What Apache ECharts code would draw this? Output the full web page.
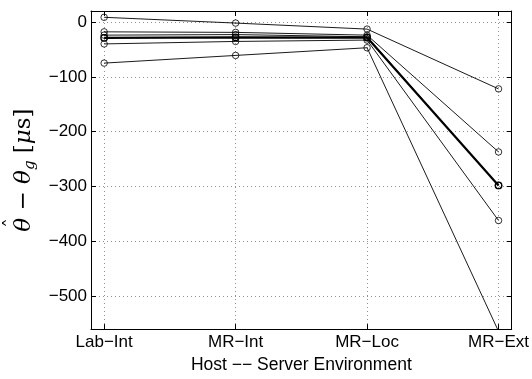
<!DOCTYPE html>
<html><head><meta charset="utf-8">
<script src="https://cdn.jsdelivr.net/npm/echarts@6/dist/echarts.min.js"></script>
<style>html,body{margin:0;padding:0;background:#fff}#c{width:532px;height:379px}</style>
</head><body><div id="c"></div>
<script>
// categories (x positions 1..4)
const categories = ['Lab\u2212Int', 'MR\u2212Int', 'MR\u2212Loc', 'MR\u2212Ext'];
// thin series
const runA = [8.5, -2, -13, -122];
const runB = [-18, -19, -24, -237];
const runC = [-24, -23, -27, -298];
const runD = [-40, -35.5, -33, -362];
const runE = [-75, -61, -47, -564];
// thick series
const runMean = [-29, -28, -28.5, -298];

const thinRuns = [runA, runB, runC, runD, runE];

function toPts(arr) { return arr.map((v, i) => [i + 1, v]); }
function yFmt(v) {
  if (Math.abs(v % 100) > 1e-9) return '';
  return v < 0 ? '\u2212' + Math.abs(v) : String(v);
}
function xFmt(v) {
  const r = Math.round(v);
  if (Math.abs(v - r) > 1e-9 || r < 1 || r > 4) return '';
  return categories[r - 1];
}

const font = 'Liberation Sans';
const gridLine = { show: true, showMinLine: false, showMaxLine: false, lineStyle: { color: '#777', type: [1, 3], width: 0.8 } };
const axLine = { show: true, onZero: false, lineStyle: { color: '#000', width: 1 } };
const axTick = { show: true, inside: true, length: 5, lineStyle: { color: '#000', width: 1 } };

const series = thinRuns.map(r => ({
  type: 'line', data: toPts(r), symbol: 'circle', symbolSize: 6.5,
  itemStyle: { color: 'rgba(255,255,255,0)', borderColor: '#000', borderWidth: 0.8 },
  lineStyle: { color: '#000', width: 0.9 },
  xAxisIndex: 0, yAxisIndex: 0, z: 3, clip: true
}));
series.push({
  type: 'line', data: toPts(runMean), symbol: 'circle', symbolSize: 6.5,
  itemStyle: { color: 'rgba(255,255,255,0)', borderColor: '#000', borderWidth: 1.4 },
  lineStyle: { color: '#000', width: 2.2 },
  xAxisIndex: 0, yAxisIndex: 0, z: 4, clip: true
});

const chart = echarts.init(document.getElementById('c'), null, { renderer: 'canvas' });
chart.setOption({
  animation: false,
  backgroundColor: '#fff',
  grid: { left: 91, right: 19, top: 11, bottom: 38, show: false },
  graphic: [
    { type: 'text', x: 14, y: 223, rotation: Math.PI / 2,
      style: { text: '\u02C6', fontFamily: 'DejaVu Serif', fontSize: 20, fill: '#000', align: 'center', verticalAlign: 'middle' } }
  ],
  xAxis: [
    { type: 'value', position: 'bottom', min: 0.9, max: 4.1, splitNumber: 3, minInterval: 1, maxInterval: 1,
      axisLine: axLine, axisTick: axTick, splitLine: gridLine,
      axisLabel: { formatter: xFmt, color: '#000', fontFamily: font, fontSize: 17, margin: 5 },
      name: 'Host \u2212\u2212 Server Environment', nameLocation: 'middle', nameGap: 24,
      nameTextStyle: { color: '#000', fontFamily: font, fontSize: 17.5 } },
    { type: 'value', position: 'top', min: 0.9, max: 4.1, splitNumber: 3, minInterval: 1, maxInterval: 1,
      axisLine: axLine, axisTick: axTick, splitLine: { show: false }, axisLabel: { show: false } }
  ],
  yAxis: [
    { type: 'value', position: 'left', min: -560, max: 20, minInterval: 100, maxInterval: 100, splitNumber: 6,
      axisLine: axLine, axisTick: axTick, splitLine: gridLine,
      axisLabel: { formatter: yFmt, color: '#000', fontFamily: font, fontSize: 17, margin: 4 },
      name: '{m|\u03B8}{u| \u2212 }{m|\u03B8}{s|g}{u| [}{m|\u03BC}{u|s]}',
      nameLocation: 'middle', nameRotate: 90, nameGap: 45,
      nameTextStyle: {
        rich: {
          m: { fontFamily: 'DejaVu Serif', fontStyle: 'italic', fontSize: 23, color: '#000', lineHeight: 28 },
          u: { fontFamily: 'DejaVu Serif', fontSize: 23, color: '#000', lineHeight: 28 },
          s: { fontFamily: 'DejaVu Serif', fontStyle: 'italic', fontSize: 15, color: '#000', lineHeight: 16, verticalAlign: 'bottom' }
        }
      } },
    { type: 'value', position: 'right', min: -560, max: 20, minInterval: 100, maxInterval: 100, splitNumber: 6,
      axisLine: axLine, axisTick: axTick, splitLine: { show: false }, axisLabel: { show: false } }
  ],
  series: series
});
</script>
</body></html>
